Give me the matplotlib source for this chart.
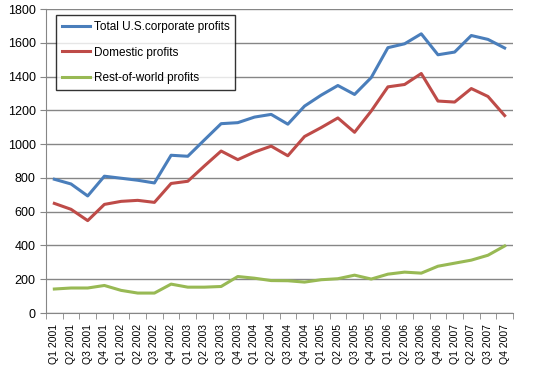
import numpy as np
import matplotlib
matplotlib.use("Agg")
import matplotlib.pyplot as plt

plt.rcParams["font.family"] = ["Liberation Sans", "DejaVu Sans"]

quarters = ["Q%d %d" % (q, y) for y in range(2001, 2008) for q in range(1, 5)]

total = [792, 764, 693, 810, 798, 786, 770, 934, 928, 1025, 1121, 1127, 1160, 1176,
         1118, 1225, 1290, 1347, 1294, 1394, 1571, 1594, 1653, 1529, 1545, 1643, 1620, 1569]
domestic = [649, 614, 547, 643, 661, 667, 655, 767, 780, 871, 959, 908, 953, 988,
            931, 1045, 1098, 1155, 1070, 1196, 1339, 1353, 1418, 1255, 1249, 1329, 1282, 1169]
rest_world = [142, 148, 148, 163, 134, 118, 118, 171, 153, 153, 157, 216, 206, 192,
              191, 183, 197, 203, 224, 201, 230, 242, 236, 277, 295, 313, 342, 397]

fig = plt.figure(figsize=(5.33, 3.81), dpi=100)
ax = fig.add_axes([46/533, 1 - 313/381, (513 - 46)/533, (313 - 9)/381])

x = np.arange(len(quarters))
ax.plot(x, total, color="#4A7EBB", lw=2.2, label="Total U.S.corporate profits")
ax.plot(x, domestic, color="#BE4B48", lw=2.2, label="Domestic profits")
ax.plot(x, rest_world, color="#98B954", lw=2.2, label="Rest-of-world profits")

ax.set_xlim(-0.5, len(quarters) - 0.5)
ax.set_ylim(0, 1800)
ax.set_yticks(range(0, 1801, 200))
ax.yaxis.grid(True, color="#868686", lw=1)
ax.set_axisbelow(True)

ax.set_xticks(x)
ax.set_xticklabels(quarters, rotation=90, fontsize=7.5)
ax.set_xticks(np.arange(-0.5, len(quarters), 1), minor=True)
ax.tick_params(axis="x", which="major", length=0, pad=8)
ax.tick_params(axis="x", which="minor", length=4, color="#868686")
ax.tick_params(axis="y", length=4, color="#868686", labelsize=9)

for s in ["top", "right"]:
    ax.spines[s].set_visible(False)
for s in ["left", "bottom"]:
    ax.spines[s].set_color("#868686")

leg = ax.legend(loc="upper left", bbox_to_anchor=(0.0214, 0.98), borderaxespad=0,
                fontsize=8.5, frameon=True, fancybox=False, edgecolor="black",
                handlelength=2.4, handletextpad=0.3, borderpad=0.5, labelspacing=1.15)
leg.get_frame().set_linewidth(1)

plt.savefig("out.png", dpi=100)
